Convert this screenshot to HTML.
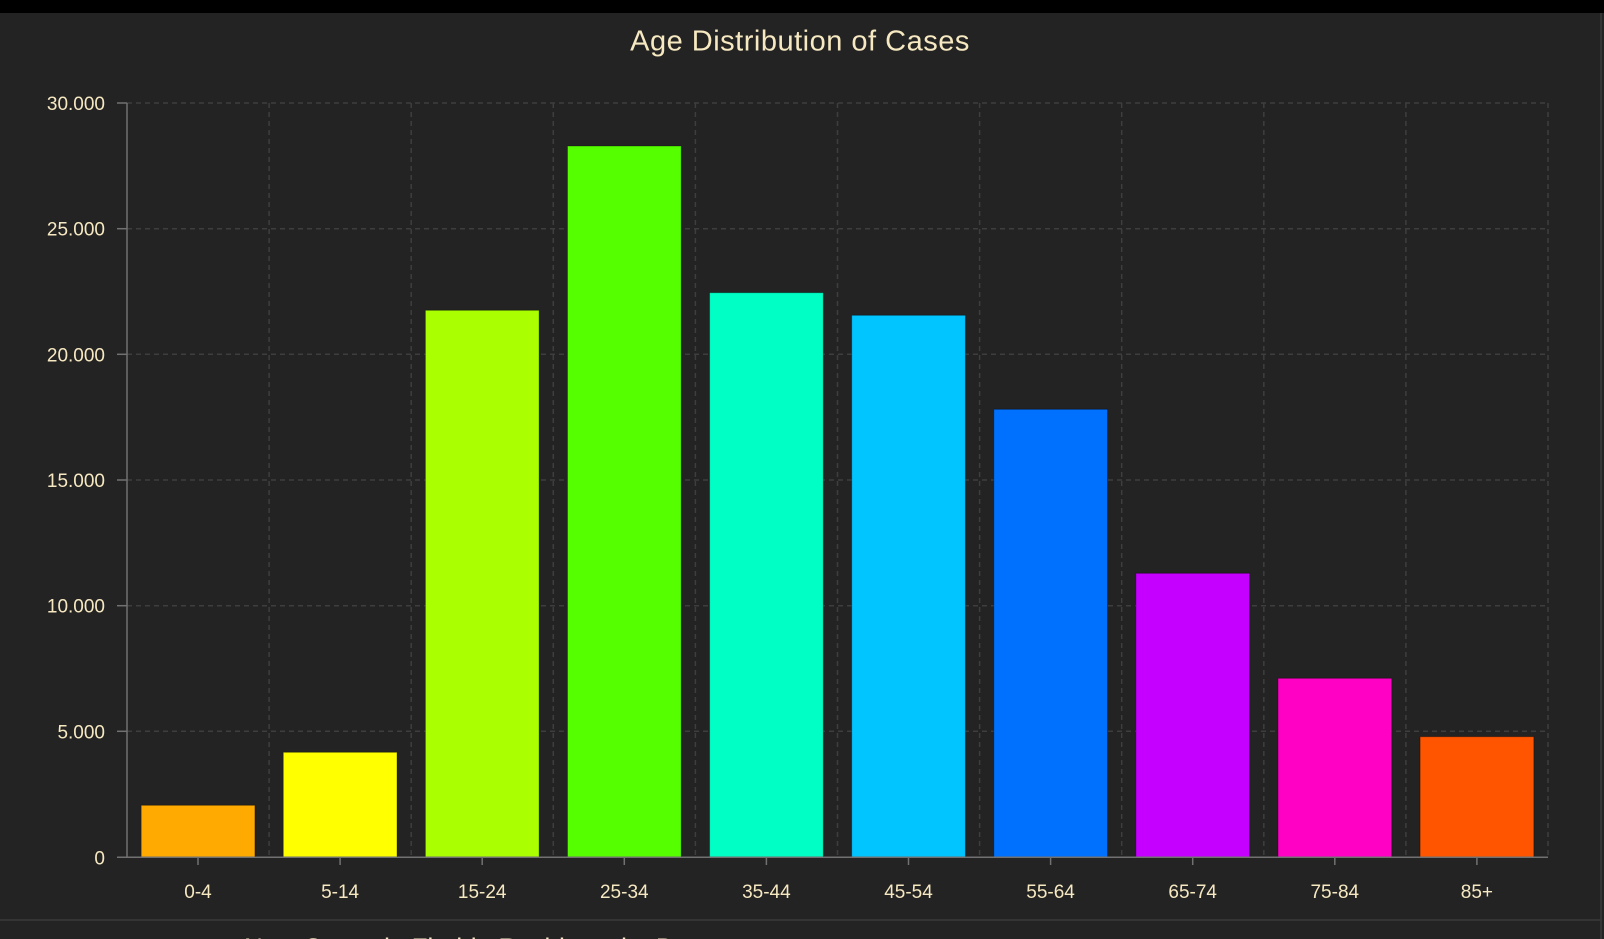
<!DOCTYPE html>
<html><head><meta charset="utf-8"><style>
html,body{margin:0;padding:0;background:#232323;}
svg{display:block;}
text{font-family:"Liberation Sans","DejaVu Sans",sans-serif;fill:#f6e8c1;}
</style></head><body>
<svg width="1604" height="939" viewBox="0 0 1604 939" xmlns="http://www.w3.org/2000/svg">
<rect x="0" y="0" width="1604" height="939" fill="#232323"/>
<rect x="0" y="0" width="1604" height="13" fill="#000"/>
<line x1="1601" y1="13" x2="1601" y2="939" stroke="#3a3a3a" stroke-width="1.5"/>
<line x1="0" y1="920" x2="1601" y2="920" stroke="#3a3a3a" stroke-width="1.5"/>
<text x="800" y="50.5" font-size="29" text-anchor="middle" letter-spacing="0.5">Age Distribution of Cases</text>
<g stroke="#3e3e3e" stroke-width="1.5" stroke-dasharray="5,4">
<line x1="127" y1="103" x2="1548" y2="103"/>
<line x1="127" y1="228.7" x2="1548" y2="228.7"/>
<line x1="127" y1="354.3" x2="1548" y2="354.3"/>
<line x1="127" y1="480" x2="1548" y2="480"/>
<line x1="127" y1="605.7" x2="1548" y2="605.7"/>
<line x1="127" y1="731.3" x2="1548" y2="731.3"/>
<line x1="269.1" y1="103" x2="269.1" y2="857"/>
<line x1="411.2" y1="103" x2="411.2" y2="857"/>
<line x1="553.3" y1="103" x2="553.3" y2="857"/>
<line x1="695.4" y1="103" x2="695.4" y2="857"/>
<line x1="837.5" y1="103" x2="837.5" y2="857"/>
<line x1="979.6" y1="103" x2="979.6" y2="857"/>
<line x1="1121.7" y1="103" x2="1121.7" y2="857"/>
<line x1="1263.8" y1="103" x2="1263.8" y2="857"/>
<line x1="1405.9" y1="103" x2="1405.9" y2="857"/>
<line x1="1548" y1="103" x2="1548" y2="857"/>
</g>
<g stroke="rgba(0,0,0,0.3)" stroke-width="1">
<rect x="141.2" y="805.3" width="113.7" height="52" fill="#ffaa00"/>
<rect x="283.3" y="752.3" width="113.7" height="105" fill="#ffff00"/>
<rect x="425.4" y="310.3" width="113.7" height="547" fill="#aaff00"/>
<rect x="567.5" y="146" width="113.7" height="711.3" fill="#55ff00"/>
<rect x="709.6" y="292.7" width="113.7" height="564.6" fill="#00ffc5"/>
<rect x="851.7" y="315.3" width="113.7" height="542" fill="#00c5ff"/>
<rect x="993.8" y="409.3" width="113.7" height="448" fill="#0070ff"/>
<rect x="1135.9" y="573.3" width="113.7" height="284" fill="#c500ff"/>
<rect x="1278" y="678.3" width="113.7" height="179" fill="#ff00c5"/>
<rect x="1420.1" y="736.7" width="113.7" height="120.6" fill="#ff5500"/>
</g>
<g stroke="#717171" stroke-width="1.5">
<line x1="127" y1="103" x2="127" y2="857.3"/>
<line x1="117" y1="857.3" x2="1548" y2="857.3"/>
<line x1="117" y1="103" x2="127" y2="103"/>
<line x1="117" y1="228.7" x2="127" y2="228.7"/>
<line x1="117" y1="354.3" x2="127" y2="354.3"/>
<line x1="117" y1="480" x2="127" y2="480"/>
<line x1="117" y1="605.7" x2="127" y2="605.7"/>
<line x1="117" y1="731.3" x2="127" y2="731.3"/>
<line x1="198" y1="857" x2="198" y2="865"/>
<line x1="340.1" y1="857" x2="340.1" y2="865"/>
<line x1="482.2" y1="857" x2="482.2" y2="865"/>
<line x1="624.3" y1="857" x2="624.3" y2="865"/>
<line x1="766.4" y1="857" x2="766.4" y2="865"/>
<line x1="908.5" y1="857" x2="908.5" y2="865"/>
<line x1="1050.6" y1="857" x2="1050.6" y2="865"/>
<line x1="1192.7" y1="857" x2="1192.7" y2="865"/>
<line x1="1334.8" y1="857" x2="1334.8" y2="865"/>
<line x1="1476.9" y1="857" x2="1476.9" y2="865"/>
</g>
<g font-size="19" text-anchor="end">
<text x="105" y="110">30.000</text>
<text x="105" y="235.7">25.000</text>
<text x="105" y="361.3">20.000</text>
<text x="105" y="487">15.000</text>
<text x="105" y="612.7">10.000</text>
<text x="105" y="738.3">5.000</text>
<text x="105" y="864.3">0</text>
</g>
<g font-size="19" text-anchor="middle">
<text x="198" y="898">0-4</text>
<text x="340.1" y="898">5-14</text>
<text x="482.2" y="898">15-24</text>
<text x="624.3" y="898">25-34</text>
<text x="766.4" y="898">35-44</text>
<text x="908.5" y="898">45-54</text>
<text x="1050.6" y="898">55-64</text>
<text x="1192.7" y="898">65-74</text>
<text x="1334.8" y="898">75-84</text>
<text x="1476.9" y="898">85+</text>
</g>
<text x="244" y="956.5" font-size="26">New Cases in Florida Residents by Day</text>
</svg>
</body></html>
